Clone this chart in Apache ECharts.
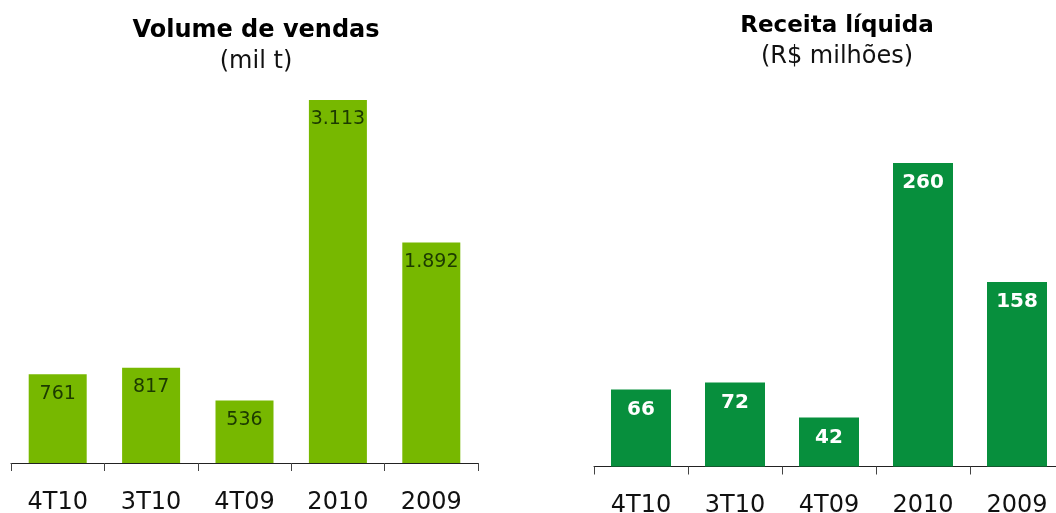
<!DOCTYPE html>
<html><head><meta charset="utf-8">
<script src="https://cdn.jsdelivr.net/npm/echarts@6/dist/echarts.min.js"></script>
<style>html,body{margin:0;padding:0;background:#fff}#c{width:1056px;height:513px}</style>
</head><body><div id="c"></div>
<script>
const categories = ['4T10', '3T10', '4T09', '2010', '2009'];
const volumeValues = [761, 817, 536, 3113, 1892];
const revenueValues = [66, 72, 42, 260, 158];
const leftTitle = 'Volume de vendas';
const leftSub = '(mil t)';
const rightTitle = 'Receita líquida';
const rightSub = '(R$ milhões)';

function fmt(v) {
  return String(v).replace(/\B(?=(\d{3})+(?!\d))/g, '.');
}
const FONT = 'DejaVu Sans';
const chart = echarts.init(document.getElementById('c'));
function xAxisCfg(gi, margin) {
  return {
    type: 'category', gridIndex: gi, data: categories,
    axisLine: { show: true, lineStyle: { color: '#222', width: 1 } },
    axisTick: { show: true, length: 8, alignWithLabel: false, lineStyle: { color: '#444', width: 1 } },
    axisLabel: { fontFamily: FONT, fontSize: 24, color: '#111', margin: margin }
  };
}
chart.setOption({
  animation: false,
  title: [
    { text: leftTitle, subtext: leftSub, left: 251, top: 14, textAlign: 'center', itemGap: 7,
      textStyle: { fontFamily: FONT, fontSize: 24, fontWeight: 'bold', color: '#000' },
      subtextStyle: { fontFamily: FONT, fontSize: 24, color: '#111' } },
    { text: rightTitle, subtext: rightSub, left: 832, top: 10, textAlign: 'center', itemGap: 7,
      textStyle: { fontFamily: FONT, fontSize: 23, fontWeight: 'bold', color: '#000' },
      subtextStyle: { fontFamily: FONT, fontSize: 24, color: '#111' } }
  ],
  grid: [
    { left: 11, width: 467, top: 100, bottom: 50, outerBoundsMode: 'none', containLabel: false },
    { left: 594, width: 470, top: 163, bottom: 46.5, outerBoundsMode: 'none', containLabel: false }
  ],
  xAxis: [xAxisCfg(0, 28), xAxisCfg(1, 27)],
  yAxis: [
    { type: 'value', gridIndex: 0, min: 0, max: 'dataMax', show: false },
    { type: 'value', gridIndex: 1, min: 0, max: 'dataMax', show: false }
  ],
  series: [
    { type: 'bar', xAxisIndex: 0, yAxisIndex: 0, data: volumeValues, barWidth: 58,
      itemStyle: { color: '#77B800' },
      label: { show: true, position: 'insideTop', distance: 10, fontFamily: FONT, fontSize: 19,
        color: '#1C3A00', formatter: p => fmt(p.value) } },
    { type: 'bar', xAxisIndex: 1, yAxisIndex: 1, data: revenueValues, barWidth: 60,
      itemStyle: { color: '#078F3D' },
      label: { show: true, position: 'insideTop', distance: 10, fontFamily: FONT, fontSize: 20,
        fontWeight: 'bold', color: '#fff', formatter: p => fmt(p.value) } }
  ]
});
</script></body></html>
